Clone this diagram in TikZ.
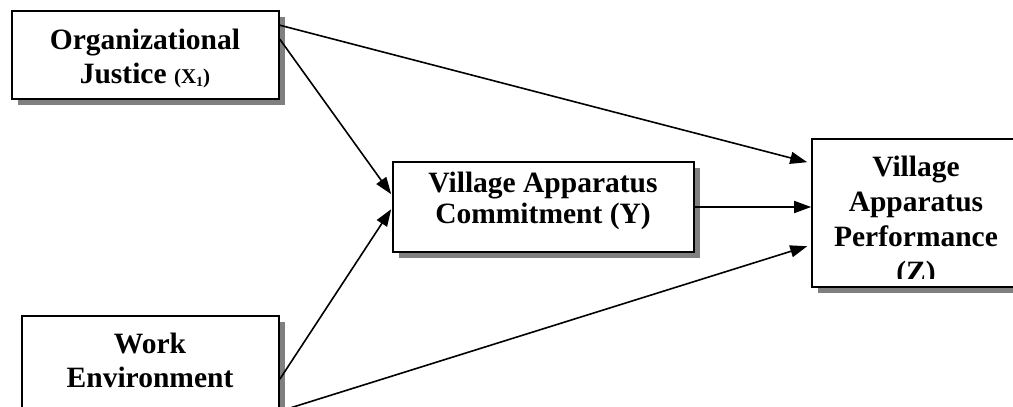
\documentclass[tikz,border=0pt]{standalone}
\usepackage{fontspec}
\setmainfont{Liberation Serif}
\usetikzlibrary{arrows.meta,shadows,calc}
\begin{document}
\begin{tikzpicture}[x=1pt,y=-1pt,
  box/.style={draw=black,line width=1.6pt,fill=white,rectangle,inner sep=0pt,
    drop shadow={shadow xshift=6pt,shadow yshift=-6pt,fill=black!50,opacity=1}},
  txt/.style={anchor=base,inner sep=0pt,font=\bfseries\fontsize{29.5}{34}\selectfont},
  arr/.style={line width=1.6pt,-{Triangle[length=17pt,width=12pt]}}]
\useasboundingbox (0,0) rectangle (1013,407);
\clip (0,0) rectangle (1013,407);
\node[box,minimum width=267pt,minimum height=88pt] (oj) at (145.5,55) {};
\node[box,minimum width=257pt,minimum height=124pt] (we) at (150.5,378) {};
\node[box,minimum width=301pt,minimum height=90pt] (y) at (543.5,207) {};
\node[box,minimum width=213pt,minimum height=148pt] (z) at (918.5,213) {};
% texts
\node[txt] (oj1) at (145,49) {Organizational};
\node[txt] (oj2) at (145,83) {Justice {\fontsize{21}{24}\selectfont (X\raisebox{-0.15em}{\fontsize{14}{16}\selectfont 1})}};
\node[txt] (we1) at (150,353) {Work};
\node[txt] (we2) at (150,387) {Environment};
\node[txt] (y1) at (543,192) {Village Apparatus};
\node[txt] (y2) at (543,223) {Commitment (Y)};
\node[txt] (z1) at (916,176) {Village};
\node[txt] (z2) at (916,211) {Apparatus};
\node[txt] (z3) at (916,246) {Performance};
\begin{scope}
\clip (812,139) rectangle (1013,278);
\node[txt] (z4) at (916,281) {(Z)};
\end{scope}
% connectors
\draw[arr] ($(oj.north east)+(0,15)$) -- ($(z.north west)+(-4,24)$);
\draw[arr] ($(oj.north east)+(0,29)$) -- ($(y.north west)+(-1,33)$);
\draw[arr] ($(we.north east)+(0,64)$) -- ($(y.north west)+(-1,48)$);
\draw[arr] ($(we.north east)+(0,96)$) -- ($(z.north west)+(-4,108)$);
\draw[arr] (y.east) -- (y.east -| z.west);
\end{tikzpicture}
\end{document}
